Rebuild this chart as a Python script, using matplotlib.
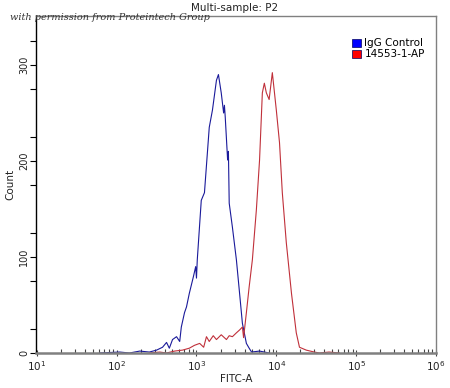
import numpy as np
import matplotlib
matplotlib.use("Agg")
import matplotlib.pyplot as plt
from matplotlib.ticker import FixedLocator, LogLocator, NullFormatter
from matplotlib.patches import Patch

# ---- data (log10 of FITC-A intensity, counts) ----
igg_log = [1.79, 2.04, 2.16, 2.29, 2.41, 2.50, 2.575, 2.625, 2.66, 2.70, 2.75, 2.79,
           2.81, 2.85, 2.875, 2.91, 2.96, 2.99, 3.00, 3.01, 3.06, 3.10, 3.16, 3.20,
           3.25, 3.275, 3.31, 3.34, 3.35, 3.36, 3.39, 3.40, 3.41, 3.45, 3.50, 3.54,
           3.575, 3.625, 3.66, 3.69, 3.79, 3.91]
igg_count = [0, 1, 0, 2, 1, 3, 6, 11, 5, 14, 17, 12,
             27, 42, 48, 62, 79, 90, 78, 97, 159, 167, 235, 253,
             284, 290, 271, 250, 258, 246, 201, 210, 156, 131, 97, 62,
             31, 10, 5, 1, 2, 0]

ab_log = [2.41, 2.54, 2.625, 2.725, 2.825, 2.91, 2.975, 3.04, 3.09, 3.125, 3.16, 3.21,
          3.25, 3.31, 3.375, 3.41, 3.45, 3.50, 3.54, 3.575, 3.59, 3.625, 3.66, 3.70,
          3.75, 3.79, 3.825, 3.85, 3.875, 3.91, 3.95, 4.00, 4.04, 4.075, 4.125, 4.19,
          4.25, 4.29, 4.375, 4.475, 4.54, 4.66, 4.79]
ab_count = [0, 1, 0, 2, 3, 5, 8, 10, 6, 17, 12, 18,
            14, 19, 14, 18, 17, 21, 24, 27, 16, 42, 69, 97,
            149, 201, 271, 281, 271, 264, 292, 253, 219, 167, 115, 62,
            21, 6, 3, 1, 0, 1, 0]

series_names = ["IgG Control", "14553-1-AP"]
series_colors = ["#0000ff", "#ff0000"]
line_colors = ["#1a1a9a", "#c0303a"]
x_tick_exps = [1, 2, 3, 4, 5, 6]
y_ticks = [0, 100, 200, 300]

fig = plt.figure(figsize=(4.5, 3.88), dpi=100)
ax = fig.add_axes([36 / 450, 1 - 353 / 388, 400 / 450, 337 / 388])

ax.plot(np.power(10.0, igg_log), igg_count, color=line_colors[0], lw=0.8)
ax.plot(np.power(10.0, ab_log), ab_count, color=line_colors[1], lw=0.8)

ax.set_xscale("log")
ax.set_xlim(10 ** 0.99, 1e6)
ax.set_ylim(0, 351)

ax.xaxis.set_major_locator(FixedLocator([10.0 ** e for e in x_tick_exps]))
ax.set_xticklabels([r"$10^{%d}$" % e for e in x_tick_exps], fontsize=7.5)
ax.xaxis.set_minor_locator(LogLocator(base=10, subs=np.arange(2, 10), numticks=20))
ax.xaxis.set_minor_formatter(NullFormatter())
ax.tick_params(axis="x", which="major", direction="inout", length=5, width=0.8,
               color="#444444", pad=2, labelcolor="#222222")
ax.tick_params(axis="x", which="minor", direction="in", length=3, width=0.8, color="#444444")

ax.yaxis.set_major_locator(FixedLocator(y_ticks))
ax.yaxis.set_minor_locator(FixedLocator(np.arange(25, 351, 50)))
ax.set_yticklabels([str(v) for v in y_ticks], rotation=90, va="center", fontsize=7,
                   color="#222222")
ax.tick_params(axis="y", which="major", direction="out", length=4, width=0.8, pad=1)
ax.tick_params(axis="y", which="minor", direction="out", length=4, width=0.8)

for s in ["top", "right"]:
    ax.spines[s].set_color("#808080")
    ax.spines[s].set_linewidth(1.0)
ax.spines["bottom"].set_color("#808080")
ax.spines["bottom"].set_linewidth(1.8)
ax.spines["left"].set_color("black")
ax.spines["left"].set_linewidth(1.0)

ax.set_xlabel("FITC-A", fontsize=7.5, labelpad=1, color="#222222")
ax.set_ylabel("Count", fontsize=7.5, labelpad=3, color="#222222")
fig.text(235 / 450, 1 - 8 / 388, "Multi-sample: P2", ha="center", va="center",
         fontsize=7.5, color="#222222")
fig.text(10 / 450, 1 - 17 / 388, "with permission from Proteintech Group",
         ha="left", va="center", fontsize=7, family="DejaVu Serif", style="italic",
         color="#333333")

handles = [Patch(facecolor=c, edgecolor="#000060", lw=0.5) for c in series_colors]
leg = ax.legend(handles, series_names, loc="upper right", bbox_to_anchor=(0.99, 0.955),
                frameon=False, fontsize=7.5, handlelength=0.9, handleheight=0.9,
                handletextpad=0.3, labelspacing=0.1, borderpad=0.2)

fig.savefig("out.png", dpi=100)
